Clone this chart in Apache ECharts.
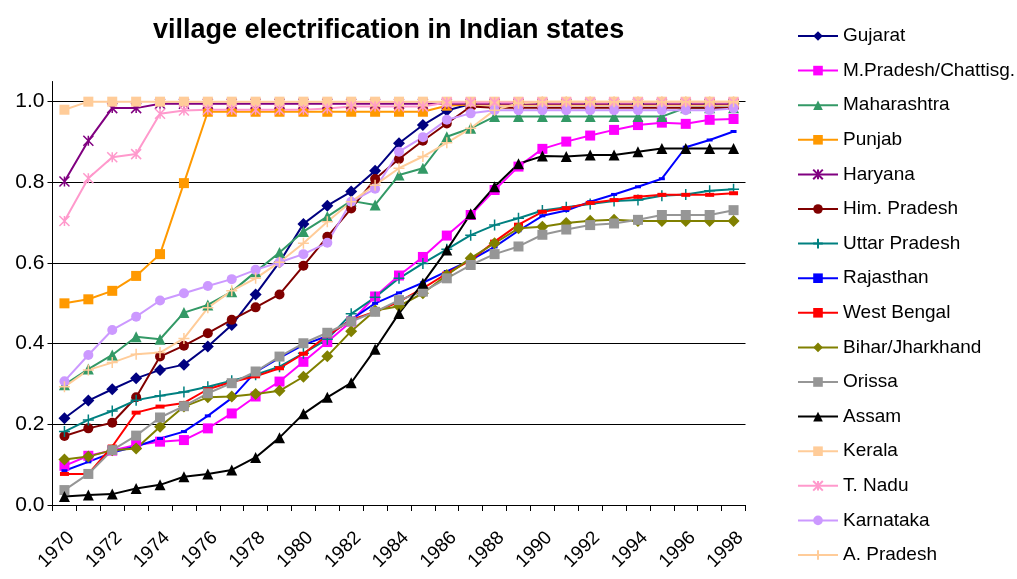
<!DOCTYPE html>
<html>
<head>
<meta charset="utf-8">
<script src="https://cdn.jsdelivr.net/npm/echarts@6/dist/echarts.min.js"></script>
<style>
    html, body { margin: 0; padding: 0; background: #fff; }
    #container { width: 1017px; height: 579px; }
</style>
</head>
<body>
<div id="container"></div>
<script>
// years on the x axis
const years = [];
for (let y = 1970; y <= 1998; y++) years.push(String(y));

// share of villages electrified
const gujarat = [0.215, 0.259, 0.287, 0.314, 0.335, 0.348, 0.393, 0.446, 0.522, 0.602, 0.697, 0.742, 0.777, 0.829, 0.897, 0.942, 0.978, 0.994, 0.995, 0.995, 0.995, 0.995, 0.995, 0.995, 0.995, 0.995, 0.995, 0.995, 0.995];
const mPradesh = [0.097, 0.122, 0.135, 0.149, 0.157, 0.161, 0.190, 0.227, 0.269, 0.306, 0.355, 0.404, 0.455, 0.517, 0.569, 0.615, 0.668, 0.719, 0.781, 0.839, 0.883, 0.901, 0.916, 0.930, 0.942, 0.948, 0.945, 0.955, 0.957];
const maharashtra = [0.298, 0.337, 0.372, 0.417, 0.411, 0.477, 0.496, 0.529, 0.578, 0.626, 0.678, 0.715, 0.754, 0.744, 0.818, 0.835, 0.913, 0.934, 0.963, 0.963, 0.963, 0.963, 0.963, 0.963, 0.963, 0.963, 0.985, 0.985, 0.985];
const punjab = [0.500, 0.510, 0.531, 0.568, 0.622, 0.798, 0.975, 0.975, 0.975, 0.975, 0.975, 0.975, 0.975, 0.975, 0.975, 0.975, 0.990, 0.993, 0.993, 0.993, 0.993, 0.993, 0.993, 0.993, 0.993, 0.993, 0.993, 0.993, 0.993];
const haryana = [0.802, 0.903, 0.984, 0.984, 0.995, 0.995, 0.995, 0.995, 0.995, 0.995, 0.995, 0.995, 0.995, 0.995, 0.995, 0.995, 0.995, 0.995, 0.995, 0.995, 0.995, 0.995, 0.995, 0.995, 0.995, 0.995, 0.995, 0.995, 0.995];
const himPradesh = [0.171, 0.190, 0.204, 0.267, 0.368, 0.395, 0.426, 0.459, 0.490, 0.522, 0.593, 0.665, 0.735, 0.808, 0.858, 0.903, 0.946, 0.988, 0.985, 0.985, 0.985, 0.985, 0.985, 0.985, 0.985, 0.985, 0.985, 0.985, 0.985];
const uttarPradesh = [0.182, 0.211, 0.233, 0.260, 0.271, 0.280, 0.293, 0.308, 0.323, 0.343, 0.376, 0.411, 0.474, 0.515, 0.562, 0.599, 0.634, 0.669, 0.694, 0.711, 0.730, 0.738, 0.746, 0.754, 0.756, 0.767, 0.770, 0.779, 0.783];
const rajasthan = [0.085, 0.107, 0.130, 0.145, 0.165, 0.182, 0.221, 0.265, 0.330, 0.365, 0.397, 0.419, 0.460, 0.500, 0.526, 0.551, 0.579, 0.607, 0.640, 0.680, 0.717, 0.730, 0.752, 0.770, 0.789, 0.809, 0.887, 0.905, 0.926];
const westBengal = [0.077, 0.077, 0.145, 0.229, 0.244, 0.253, 0.287, 0.305, 0.319, 0.339, 0.375, 0.420, 0.459, 0.479, 0.504, 0.537, 0.574, 0.607, 0.653, 0.695, 0.727, 0.736, 0.749, 0.756, 0.764, 0.769, 0.769, 0.769, 0.773];
const bihar = [0.113, 0.120, 0.136, 0.140, 0.194, 0.244, 0.267, 0.269, 0.275, 0.283, 0.318, 0.369, 0.431, 0.482, 0.493, 0.525, 0.570, 0.612, 0.649, 0.686, 0.690, 0.699, 0.705, 0.707, 0.704, 0.704, 0.704, 0.704, 0.704];
const orissa = [0.037, 0.077, 0.136, 0.172, 0.217, 0.245, 0.277, 0.302, 0.331, 0.368, 0.401, 0.427, 0.455, 0.479, 0.508, 0.529, 0.562, 0.595, 0.622, 0.641, 0.670, 0.683, 0.694, 0.698, 0.707, 0.719, 0.719, 0.719, 0.731];
const assam = [0.021, 0.025, 0.027, 0.041, 0.050, 0.070, 0.077, 0.087, 0.118, 0.167, 0.226, 0.267, 0.303, 0.386, 0.475, 0.550, 0.632, 0.722, 0.789, 0.846, 0.865, 0.864, 0.868, 0.868, 0.876, 0.884, 0.884, 0.884, 0.884];
const kerala = [0.980, 1, 1, 1, 1, 1, 1, 1, 1, 1, 1, 1, 1, 1, 1, 1, 1, 1, 1, 1, 1, 1, 1, 1, 1, 1, 1, 1, 1];
const tNadu = [0.704, 0.810, 0.862, 0.870, 0.970, 0.978, 0.980, 0.980, 0.980, 0.980, 0.980, 0.983, 0.988, 0.988, 0.988, 0.988, 0.998, 0.998, 0.998, 0.998, 0.998, 0.998, 0.998, 0.998, 0.998, 0.998, 0.998, 0.998, 0.998];
const karnataka = [0.307, 0.372, 0.434, 0.467, 0.507, 0.525, 0.543, 0.560, 0.583, 0.602, 0.622, 0.650, 0.752, 0.784, 0.876, 0.912, 0.955, 0.971, 0.979, 0.979, 0.979, 0.979, 0.979, 0.979, 0.979, 0.979, 0.979, 0.979, 0.983];
const aPradesh = [0.293, 0.335, 0.353, 0.374, 0.378, 0.413, 0.489, 0.531, 0.562, 0.602, 0.649, 0.702, 0.752, 0.793, 0.835, 0.864, 0.898, 0.934, 0.979, 0.996, 1, 1, 1, 1, 1, 1, 1, 1, 1];

// excel style markers
const ASTERISK = 'path://M0,0L10,10M10,0L0,10M5,0L5,10';
const PLUS = 'path://M5,0L5,10M0,5L10,5';

// name, data, colour, symbol, size, stroked marker?
const states = [
    ['Gujarat', gujarat, '#000080', 'diamond', 12, false],
    ['M.Pradesh/Chattisg.', mPradesh, '#FF00FF', 'rect', 10, false],
    ['Maharashtra', maharashtra, '#339966', 'triangle', 11, false],
    ['Punjab', punjab, '#FF9900', 'rect', 10, false],
    ['Haryana', haryana, '#800080', ASTERISK, 10, true],
    ['Him. Pradesh', himPradesh, '#800000', 'circle', 10, false],
    ['Uttar Pradesh', uttarPradesh, '#008080', PLUS, 11, true],
    ['Rajasthan', rajasthan, '#0000FF', 'rect', [6, 3], false],
    ['West Bengal', westBengal, '#FF0000', 'rect', [9, 4], false],
    ['Bihar/Jharkhand', bihar, '#808000', 'diamond', 12, false],
    ['Orissa', orissa, '#969696', 'rect', 10, false],
    ['Assam', assam, '#000000', 'triangle', 11, false],
    ['Kerala', kerala, '#FFCC99', 'rect', 10, false],
    ['T. Nadu', tNadu, '#FF99CC', ASTERISK, 10, true],
    ['Karnataka', karnataka, '#CC99FF', 'circle', 10, false],
    ['A. Pradesh', aPradesh, '#FFCC99', PLUS, 11, true]
];

const FONT = "'Liberation Sans', Arial, sans-serif";

const chart = echarts.init(document.getElementById('container'));

const series = states.map(([name, data, color, symbol, size, stroked]) => ({
    name: name,
    type: 'line',
    data: data,
    symbol: symbol,
    symbolSize: size,
    showAllSymbol: true,
    animation: false,
    lineStyle: { color: color, width: 2 },
    itemStyle: stroked
        ? { color: color, borderColor: color, borderWidth: 1.5 }
        : { color: color, borderWidth: 0 },
    emphasis: { disabled: true }
}));

const option = {
    backgroundColor: '#fff',
    animation: false,
    title: {
        text: 'village electrification in Indian states',
        left: 153,
        top: 17,
        padding: 0,
        textStyle: { fontFamily: FONT, fontSize: 27, fontWeight: 'bold', color: '#000' }
    },
    legend: {
        orient: 'vertical',
        left: 797,
        top: 26,
        padding: 0,
        itemWidth: 40,
        itemHeight: 12,
        itemGap: 14.6,
        textStyle: { fontFamily: FONT, fontSize: 19, color: '#000', lineHeight: 20 },
        data: states.map(s => s[0])
    },
    grid: {
        left: 52.5,
        right: 271.5,
        top: 81.5,
        bottom: 74,
        containLabel: false,
        outerBoundsMode: 'none'
    },
    xAxis: {
        type: 'category',
        data: years,
        boundaryGap: true,
        axisLine: { lineStyle: { color: '#000', width: 1 } },
        axisTick: { show: true, interval: 0, length: 6, lineStyle: { color: '#000' } },
        axisLabel: {
            interval: 1,
            rotate: 45,
            margin: 23,
            verticalAlign: 'top',
            fontFamily: FONT,
            fontSize: 19,
            color: '#000'
        },
        splitLine: { show: false }
    },
    yAxis: {
        type: 'value',
        min: 0,
        max: 1.05,
        interval: 0.2,
        axisLine: { show: true, lineStyle: { color: '#000', width: 1 } },
        axisTick: { show: true, length: 5, lineStyle: { color: '#000' } },
        axisLabel: {
            showMaxLabel: false,
            margin: 8,
            fontFamily: FONT,
            fontSize: 21,
            color: '#000',
            formatter: v => v.toFixed(1)
        },
        splitLine: {
            show: true,
            // last line sits on the 1.05 max, hide it
            lineStyle: { color: ['#000', '#000', '#000', '#000', '#000', '#000', 'rgba(0,0,0,0)'], width: 1 }
        }
    },
    series: series
};

chart.setOption(option);
</script>
</body>
</html>
